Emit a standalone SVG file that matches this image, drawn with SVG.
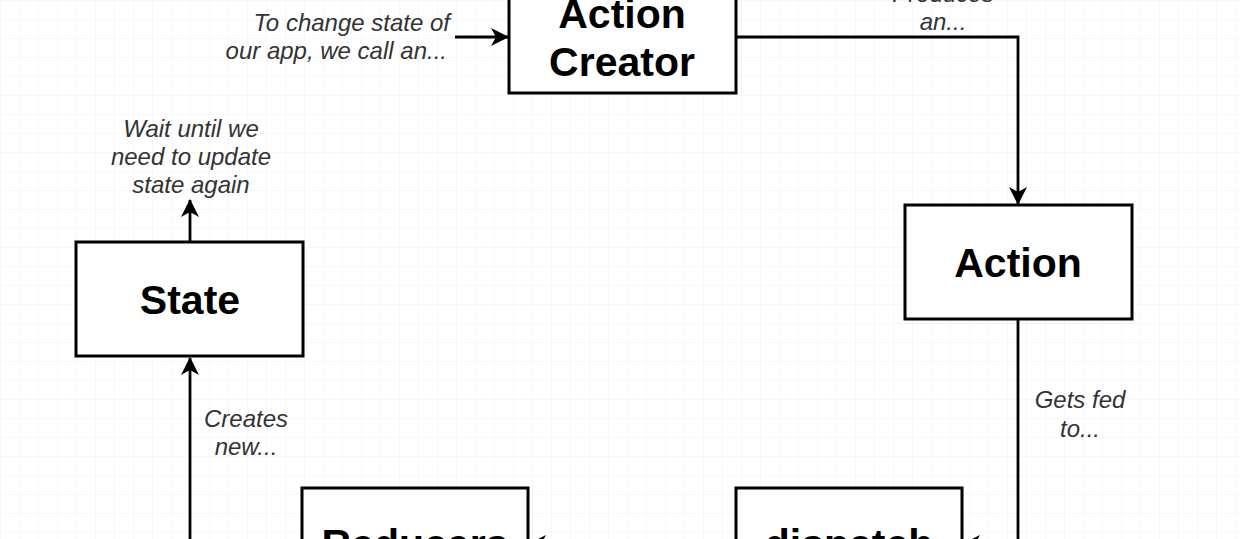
<svg xmlns="http://www.w3.org/2000/svg" width="1240" height="539" viewBox="0 0 1240 539">
  <style>
    .box { fill: #ffffff; stroke: #000000; stroke-width: 3; }
    .title { font-family: "Liberation Sans", Arial, sans-serif; font-weight: bold; font-size: 41px; fill: #000000; text-anchor: middle; }
    .note { font-family: "Liberation Sans", Arial, sans-serif; font-style: italic; font-size: 24px; fill: #333333; }
    .conn { fill: none; stroke: #000000; stroke-width: 2.8; }
  </style>
  <defs>
    <pattern id="grid" x="0" y="0" width="19" height="19" patternUnits="userSpaceOnUse">
      <path d="M 19 0 L 0 0 0 19" fill="none" stroke="#efeff3" stroke-width="1"/>
    </pattern>
    <marker id="arrow" viewBox="0 0 18 18" refX="17" refY="9" markerWidth="18" markerHeight="18" markerUnits="userSpaceOnUse" orient="auto">
      <path d="M0,0 L18,9 L0,18 L5,9 Z" fill="#000000"/>
    </marker>
  </defs>
  <rect x="0" y="0" width="1240" height="539" fill="#ffffff"/>
  <rect x="0" y="0" width="1240" height="539" fill="url(#grid)"/>

  <g id="connectors">
    <path class="conn" d="M 455 37 L 508 37" marker-end="url(#arrow)"/>
    <path class="conn" d="M 736 37 L 1018 37 L 1018 204" marker-end="url(#arrow)"/>
    <path class="conn" d="M 1018 319 L 1018 544 L 963 544" marker-end="url(#arrow)"/>
    <path class="conn" d="M 736 544 L 529 544" marker-end="url(#arrow)"/>
    <path class="conn" d="M 190 560 L 190 358" marker-end="url(#arrow)"/>
    <path class="conn" d="M 190 242 L 190 200" marker-end="url(#arrow)"/>
  </g>

  <g id="labels">
    <text class="note" text-anchor="end" x="450" y="31">To change state of</text>
    <text class="note" text-anchor="end" x="447" y="59">our app, we call an...</text>
    <text class="note" text-anchor="middle" x="943" y="2">Produces</text>
    <text class="note" text-anchor="middle" x="943" y="30">an...</text>
    <text class="note" text-anchor="middle" x="1080" y="408">Gets fed</text>
    <text class="note" text-anchor="middle" x="1080" y="437">to...</text>
    <text class="note" text-anchor="middle" x="246" y="427">Creates</text>
    <text class="note" text-anchor="middle" x="246" y="455">new...</text>
    <text class="note" text-anchor="middle" x="191" y="137">Wait until we</text>
    <text class="note" text-anchor="middle" x="191" y="165">need to update</text>
    <text class="note" text-anchor="middle" x="191" y="193">state again</text>
  </g>

  <g id="action-creator">
    <rect class="box" x="509" y="-20" width="227" height="113"/>
    <text class="title" x="622" y="28">Action</text>
    <text class="title" x="622" y="76">Creator</text>
  </g>
  <g id="action">
    <rect class="box" x="905" y="205" width="227" height="114"/>
    <text class="title" x="1018" y="277">Action</text>
  </g>
  <g id="state">
    <rect class="box" x="76" y="242" width="227" height="114"/>
    <text class="title" x="190" y="314">State</text>
  </g>
  <g id="reducers">
    <rect class="box" x="302" y="488" width="226" height="114"/>
    <text class="title" x="415" y="558">Reducers</text>
  </g>
  <g id="dispatch">
    <rect class="box" x="736" y="488" width="226" height="114"/>
    <text class="title" x="849" y="558">dispatch</text>
  </g>
</svg>
